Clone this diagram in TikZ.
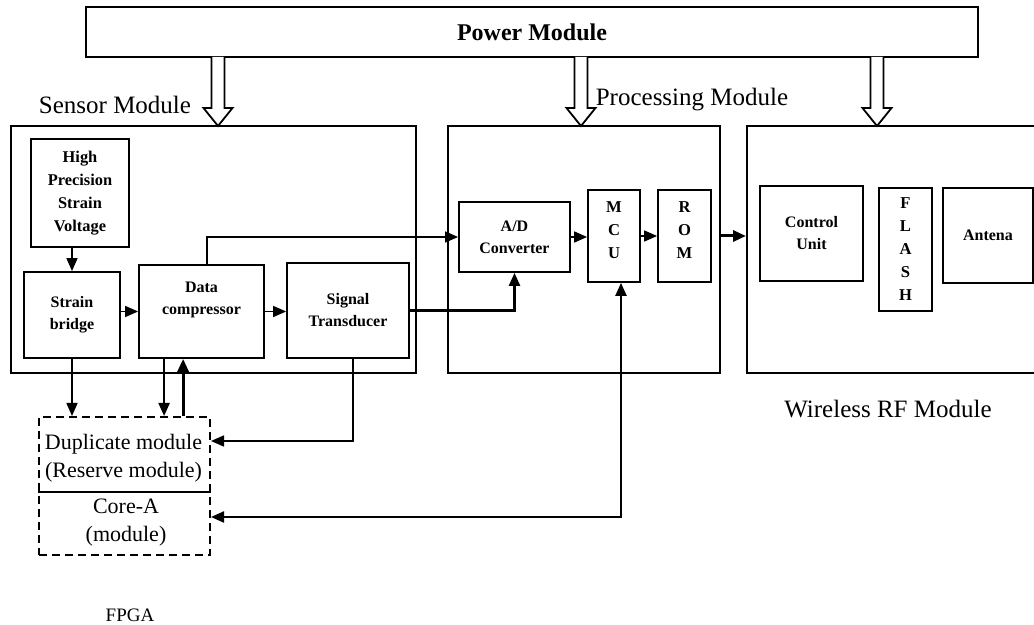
\documentclass[tikz,border=0pt]{standalone}
\usepackage{fontspec}
\setmainfont{Liberation Serif}
\usepackage{tikz}
\usetikzlibrary{calc, arrows.meta}

\tikzset{
    box/.style={draw, line width=1pt, inner sep=0pt},
    wh/.style n args={2}{minimum width=#1*0.5pt, minimum height=#2*0.5pt},
    blk/.style={box, line width=0.9pt, align=center, font=\fontsize{8}{11}\selectfont\bfseries},
    letters/.style={blk, font=\fontsize{8.3}{11.5}\selectfont\bfseries},
    modlabel/.style={anchor=base, inner sep=0pt, font=\fontsize{12.5}{15}\selectfont},
    fpgatext/.style={align=center, inner sep=0pt, font=\fontsize{11}{14}\selectfont},
    arr/.style={line width=0.8pt, -{Triangle[length=6.5pt,width=5.5pt]}},
    bigarr/.style={arr, line width=1.5pt},
    arrboth/.style={line width=1.1pt, {Triangle[length=6.5pt,width=5.5pt]}-{Triangle[length=6.5pt,width=5.5pt]}},
    hollow/.style={draw, line width=0.9pt, fill=white}
}

\begin{document}
\begin{tikzpicture}[x=0.5pt, y=-0.5pt]
      \useasboundingbox (0,0) rectangle (1034,625);

      % 1. Power module and its three supply arrows
      \node[box, wh={892}{50}, font=\fontsize{12}{14}\selectfont\bfseries] (power) at (532,32) {Power Module};
      \foreach \px in {218,581,877}
        \draw[hollow] (\px-6.5,57) -- (\px-6.5,108) -- (\px-14.5,108) -- (\px,126)
          -- (\px+14.5,108) -- (\px+6.5,108) -- (\px+6.5,57);

      % 2. The three module frames and their labels
      \node[box, wh={405}{247}] (sensor) at (213.5,249.5) {};
      \node[box, wh={272}{247}] (proc) at (584,249.5) {};
      \node[box, wh={289}{247}] (wireless) at (891.5,249.5) {};
      \node[modlabel] (sensorlbl) at (115,114) {Sensor Module};
      \node[modlabel] (proclbl) at (692,106) {Processing Module};
      \node[modlabel] (wirelesslbl) at (888,418) {Wireless RF Module};

      % 3. Blocks of the sensor module
      \node[blk, font=\fontsize{8.2}{11.5}\selectfont\bfseries, wh={98}{108}] (strainv) at (80,193) {High\\Precision\\Strain\\Voltage};
      \node[blk, wh={96}{86}] (bridge) at (72,315) {Strain\\bridge};
      \node[blk, wh={125}{93}, text depth=13pt] (comp) at (201.5,311.5) {Data\\compressor};
      \node[blk, wh={122}{95}] (trans) at (348,310.5) {Signal\\Transducer};

      % 4. Blocks of the processing module
      \node[blk, wh={111}{70}] (adc) at (514.5,237) {A/D\\Converter};
      \node[letters, wh={52}{92}, text depth=5.5pt] (mcu) at (614,236) {M\\C\\U};
      \node[letters, wh={53}{92}, text depth=5.5pt] (rom) at (684.5,236) {R\\O\\M};

      % 5. Blocks of the wireless RF module
      \node[blk, wh={103}{95}] (ctrl) at (811.5,233.5) {Control\\Unit};
      \node[letters, wh={53}{123}] (flash) at (905.5,249.5) {F\\L\\A\\S\\H};
      \node[blk, wh={90}{95}] (antena) at (988,235.5) {Antena};

      % 6. FPGA block with duplicate module and core
      \node[box, dashed, dash pattern=on 4pt off 2.5pt, wh={171}{138}] (fpga) at (124.5,486) {};
      \node[fpgatext] (dup) at (123.5,458) {Duplicate module\\(Reserve module)};
      \node[fpgatext] (core) at (126,523) {Core-A\\(module)};
      \draw[line width=0.9pt] ($(fpga.north west)+(0,76)$) -- ($(fpga.north east)+(0,76)$);
      \node[anchor=base, inner sep=0pt, font=\fontsize{9.5}{11}\selectfont] (fpgalbl) at (130,622) {FPGA};

      % 7. Signal path
      \draw[arr] (bridge.north |- strainv.south) -- (bridge.north);
      \draw[arr] (comp.west -| bridge.east) -- (comp.west);
      \draw[arr] (comp.east) -- (trans.west |- comp.east);
      \draw[arr] ($(comp.north)+(5.5,0)$) |- (adc.west);
      \draw[arr, line width=1.2pt] (trans.east) -| (adc.south);
      \draw[arr] (adc.east) -- (mcu.west |- adc.east);
      \draw[arr] (mcu.east) -- (rom.west);
      \draw[bigarr] (rom.east -| proc.east) -- (rom.east -| wireless.west);

      % 8. Links to the FPGA
      \coordinate (cdown) at ($(comp.south west)+(26,0)$);
      \coordinate (cup) at ($(comp.south west)+(45,0)$);
      \draw[arr] (bridge.south) -- (bridge.south |- fpga.north);
      \draw[arr, line width=1.1pt] (cdown) -- (cdown |- fpga.north);
      \draw[bigarr] (cup |- fpga.north) -- (cup);
      \draw[arr] ($(trans.south)+(5,0)$) |- ($(fpga.east)+(0,-45)$);
      \draw[arrboth] ($(mcu.south)+(7,0)$) |- ($(fpga.east)+(0,31)$);
\end{tikzpicture}
\end{document}
